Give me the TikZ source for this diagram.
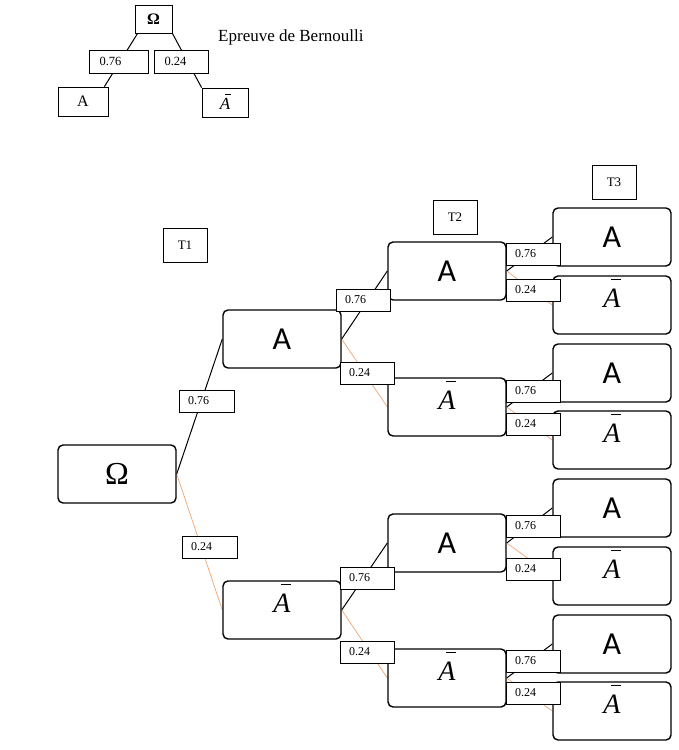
\documentclass[tikz,border=0pt]{standalone}
\usepackage{fontspec}
\setmainfont{Liberation Serif}
\newfontfamily\boxsans{Carlito}
\definecolor{edgeorange}{RGB}{238,165,115}
\pgfdeclarelayer{bg}
\pgfsetlayers{bg,main}
\newcommand{\Abar}[1][0.95em]{\leavevmode\rlap{\hspace{0.28em}\rule[#1]{0.36em}{0.05em}}\textit{A}}
\begin{document}
\begin{tikzpicture}[x=1pt,y=-1pt,
  bigbox/.style={draw, line width=1.4pt, rounded corners=5pt, fill=white, minimum width=118pt, minimum height=58pt, inner sep=0pt},
  abox/.style={bigbox, font=\boxsans\fontsize{32}{36}\selectfont},
  abarbox/.style={bigbox, font=\fontsize{28}{30}\selectfont, text height=30pt, text depth=26pt},
  ombox/.style={bigbox, font=\fontsize{32}{36}\selectfont},
  pbox/.style={draw, line width=0.7pt, fill=white, minimum height=22pt, inner xsep=9pt, inner ysep=0pt, text width=36pt, align=left, font=\fontsize{12}{14}\selectfont},
  tbox/.style={draw, line width=0.7pt, fill=white, minimum width=44pt, minimum height=34pt, inner sep=0pt, font=\fontsize{13}{15}\selectfont},
  sbox/.style={draw, line width=0.8pt, fill=white, inner sep=0pt, font=\fontsize{16}{18}\selectfont},
  blackedge/.style={draw=black, line width=1pt},
  orangeedge/.style={draw=edgeorange, line width=0.7pt}
]
\useasboundingbox (0,0) rectangle (679,750);

% ---------- small Bernoulli tree ----------
\node[sbox, minimum width=37pt, minimum height=28pt, font=\bfseries\fontsize{16}{18}\selectfont] (tom) at (153.5,19) {Ω};
\node[sbox, minimum width=50pt, minimum height=29pt] (ta) at (83,101.5) {A};
\node[sbox, minimum width=46pt, minimum height=29pt, font=\fontsize{17}{18}\selectfont, text height=21pt, text depth=7pt] (tab) at (225,102.5) {\Abar[0.88em]};
\node[pbox, text width=39pt, inner xsep=10pt, minimum height=23pt, font=\fontsize{12.5}{14}\selectfont] (tp1) at (119,61.5) {0.76};
\node[pbox, text width=33pt, inner xsep=10.5pt, minimum height=23pt, font=\fontsize{12.5}{14}\selectfont] (tp2) at (181,61.5) {0.24};
\node[anchor=west, inner sep=0pt, font=\fontsize{17}{20}\selectfont] (title) at (218,37) {Epreuve de Bernoulli};

% ---------- level titles ----------
\node[tbox] (t1) at (185,245) {T1};
\node[tbox] (t2) at (455,217) {T2};
\node[tbox] (t3) at (614,182.5) {T3};

% ---------- main tree boxes ----------
\node[ombox] (om) at (117,474) {Ω};
\node[abox] (a) at (282,339) {A};
\node[abarbox] (b) at (282,610) {\Abar};

\node[abox] (aa) at (447,271) {A};
\node[abarbox] (ab) at (447,407) {\Abar};
\node[abox] (ba) at (447,543) {A};
\node[abarbox] (bb) at (447,678) {\Abar};

\node[abox] (aaa) at (612,237) {A};
\node[abarbox] (aab) at (612,305) {\Abar};
\node[abox] (aba) at (612,373) {A};
\node[abarbox] (abb) at (612,440) {\Abar};
\node[abox] (baa) at (612,508) {A};
\node[abarbox] (bab) at (612,576) {\Abar};
\node[abox] (bba) at (612,644) {A};
\node[abarbox] (bbb) at (612,711) {\Abar};

% ---------- edges (behind) ----------
\begin{pgfonlayer}{bg}
\draw[blackedge] ([xshift=3pt]tom.south west) -- ([xshift=-4pt]ta.north east);
\draw[blackedge] (tom.south east) -- (tab.north west);

\draw[blackedge] (om.east) -- (a.west);
\draw[orangeedge] (om.east) -- (b.west);

\draw[blackedge] (a.east) -- (aa.west);
\draw[orangeedge] (a.east) -- (ab.west);
\draw[blackedge] (b.east) -- (ba.west);
\draw[orangeedge] (b.east) -- (bb.west);

\draw[blackedge] (aa.east) -- (aaa.west);
\draw[orangeedge] (aa.east) -- (aab.west);
\draw[blackedge] (ab.east) -- (aba.west);
\draw[orangeedge] (ab.east) -- (abb.west);
\draw[blackedge] (ba.east) -- (baa.west);
\draw[orangeedge] (ba.east) -- (bab.west);
\draw[blackedge] (bb.east) -- (bba.west);
\draw[orangeedge] (bb.east) -- (bbb.west);
\end{pgfonlayer}

% ---------- probability labels ----------
\node[pbox, text width=37pt] (p1) at (206.5,401) {0.76};
\node[pbox, text width=37pt] (p2) at (209.5,547) {0.24};

\node[pbox] (pa1) at (363,300) {0.76};
\node[pbox] (pa2) at (367,373) {0.24};
\node[pbox] (pb1) at (367,578) {0.76};
\node[pbox] (pb2) at (367,652) {0.24};

\node[pbox] (paa1) at (533,254) {0.76};
\node[pbox] (paa2) at (533,290) {0.24};
\node[pbox] (pab1) at (533,391) {0.76};
\node[pbox] (pab2) at (533,424) {0.24};
\node[pbox] (pba1) at (533,526) {0.76};
\node[pbox] (pba2) at (533,569) {0.24};
\node[pbox] (pbb1) at (533,661) {0.76};
\node[pbox] (pbb2) at (533,693) {0.24};
\end{tikzpicture}
\end{document}
